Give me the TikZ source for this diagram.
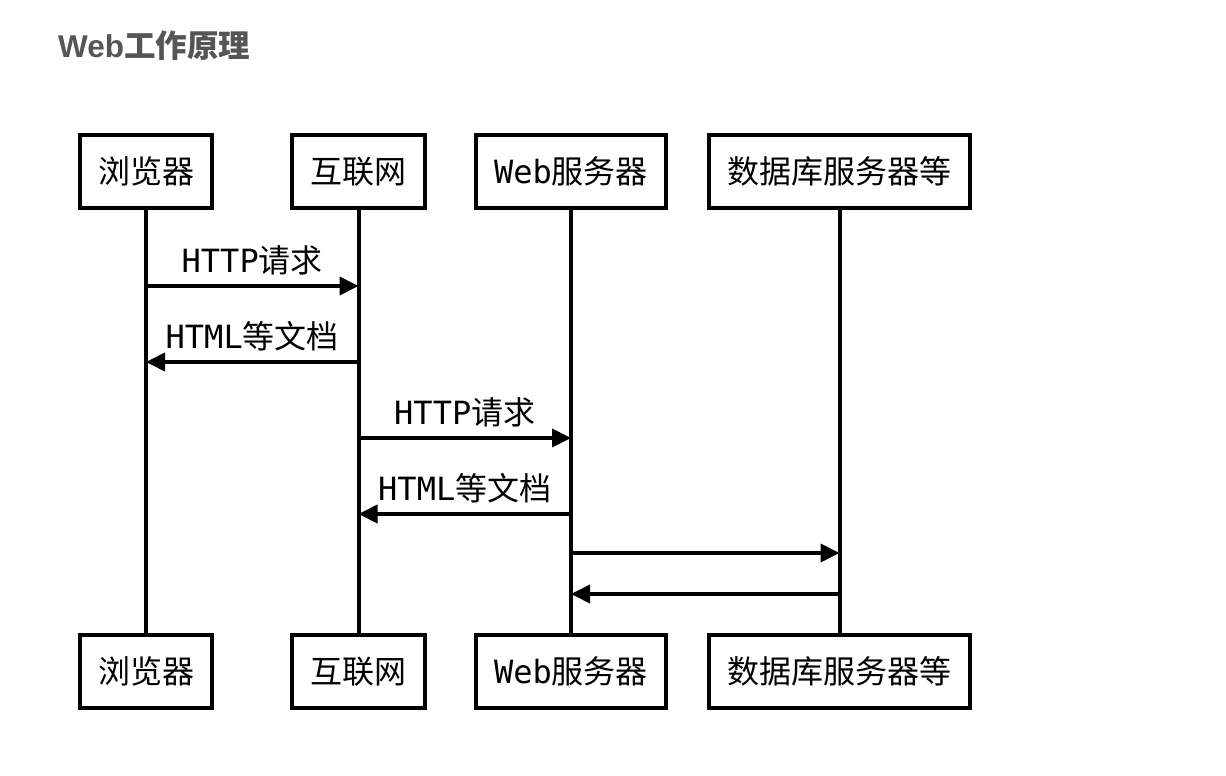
\documentclass[tikz,border=0pt]{standalone}
\usepackage{fontspec}
\usetikzlibrary{arrows.meta}
\newfontfamily\cjkfont{Noto Sans CJK SC}
\newfontfamily\monofont{DejaVu Sans Mono}
\newfontfamily\titlelatin{Liberation Sans}
\definecolor{titlegray}{HTML}{555555}
\newcommand{\mo}[1]{{\monofont #1}}
\newcommand{\cj}[1]{{\cjkfont #1}}
\begin{document}
\begin{tikzpicture}[x=1pt,y=-1pt,
  actor/.style={draw, line width=4pt, minimum height=73pt, inner sep=0pt,
    font=\fontsize{32}{34}\selectfont, text=black},
  lifeline/.style={line width=4pt},
  msg/.style={line width=4pt, -{Triangle[length=19pt,width=18pt]}},
  msglabel/.style={font=\fontsize{32}{34}\selectfont, yshift=26pt}]
\useasboundingbox[fill=white] (0,0) rectangle (1226,776);

% title
\node[anchor=west, text=titlegray, inner sep=0pt] (title) at (58,46)
  {{\titlelatin\bfseries\fontsize{31.5}{34}\selectfont Web}{\cjkfont\bfseries\fontsize{31.5}{34}\selectfont 工作原理}};

% participants, top row
\node[actor, minimum width=132pt] (br)  at (146,171.5) {\cj{浏览器}};
\node[actor, minimum width=133pt] (net) at (358.5,171.5) {\cj{互联网}};
\node[actor, minimum width=190pt] (web) at (571,171.5) {\mo{Web}\cj{服务器}};
\node[actor, minimum width=261pt] (db)  at (839.5,171.5) {\cj{数据库服务器等}};

% participants, bottom row
\node[actor, minimum width=132pt] (brB)  at (146,671.5) {\cj{浏览器}};
\node[actor, minimum width=133pt] (netB) at (358.5,671.5) {\cj{互联网}};
\node[actor, minimum width=190pt] (webB) at (571,671.5) {\mo{Web}\cj{服务器}};
\node[actor, minimum width=261pt] (dbB)  at (839.5,671.5) {\cj{数据库服务器等}};

% lifelines
\draw[lifeline] (br.south)  -- (brB.north);
\draw[lifeline] (net.south) -- (netB.north);
\draw[lifeline] (web.south) -- (webB.north);
\draw[lifeline] (db.south)  -- (dbB.north);

% message end points on the lifelines
\coordinate (br1)  at (br.south  |- 0,286);
\coordinate (net1) at (net.south |- 0,286);
\coordinate (br2)  at (br.south  |- 0,362);
\coordinate (net2) at (net.south |- 0,362);
\coordinate (net3) at (net.south |- 0,438);
\coordinate (web3) at (web.south |- 0,438);
\coordinate (net4) at (net.south |- 0,514);
\coordinate (web4) at (web.south |- 0,514);
\coordinate (web5) at (web.south |- 0,553);
\coordinate (db5)  at (db.south  |- 0,553);
\coordinate (web6) at (web.south |- 0,594);
\coordinate (db6)  at (db.south  |- 0,594);

% messages
\draw[msg] (br1) -- node[msglabel] {\mo{HTTP}\cj{请求}} (net1);
\draw[msg] (net2) -- node[msglabel] {\mo{HTML}\cj{等文档}} (br2);
\draw[msg] (net3) -- node[msglabel] {\mo{HTTP}\cj{请求}} (web3);
\draw[msg] (web4) -- node[msglabel] {\mo{HTML}\cj{等文档}} (net4);
\draw[msg] (web5) -- (db5);
\draw[msg] (db6) -- (web6);
\end{tikzpicture}
\end{document}
